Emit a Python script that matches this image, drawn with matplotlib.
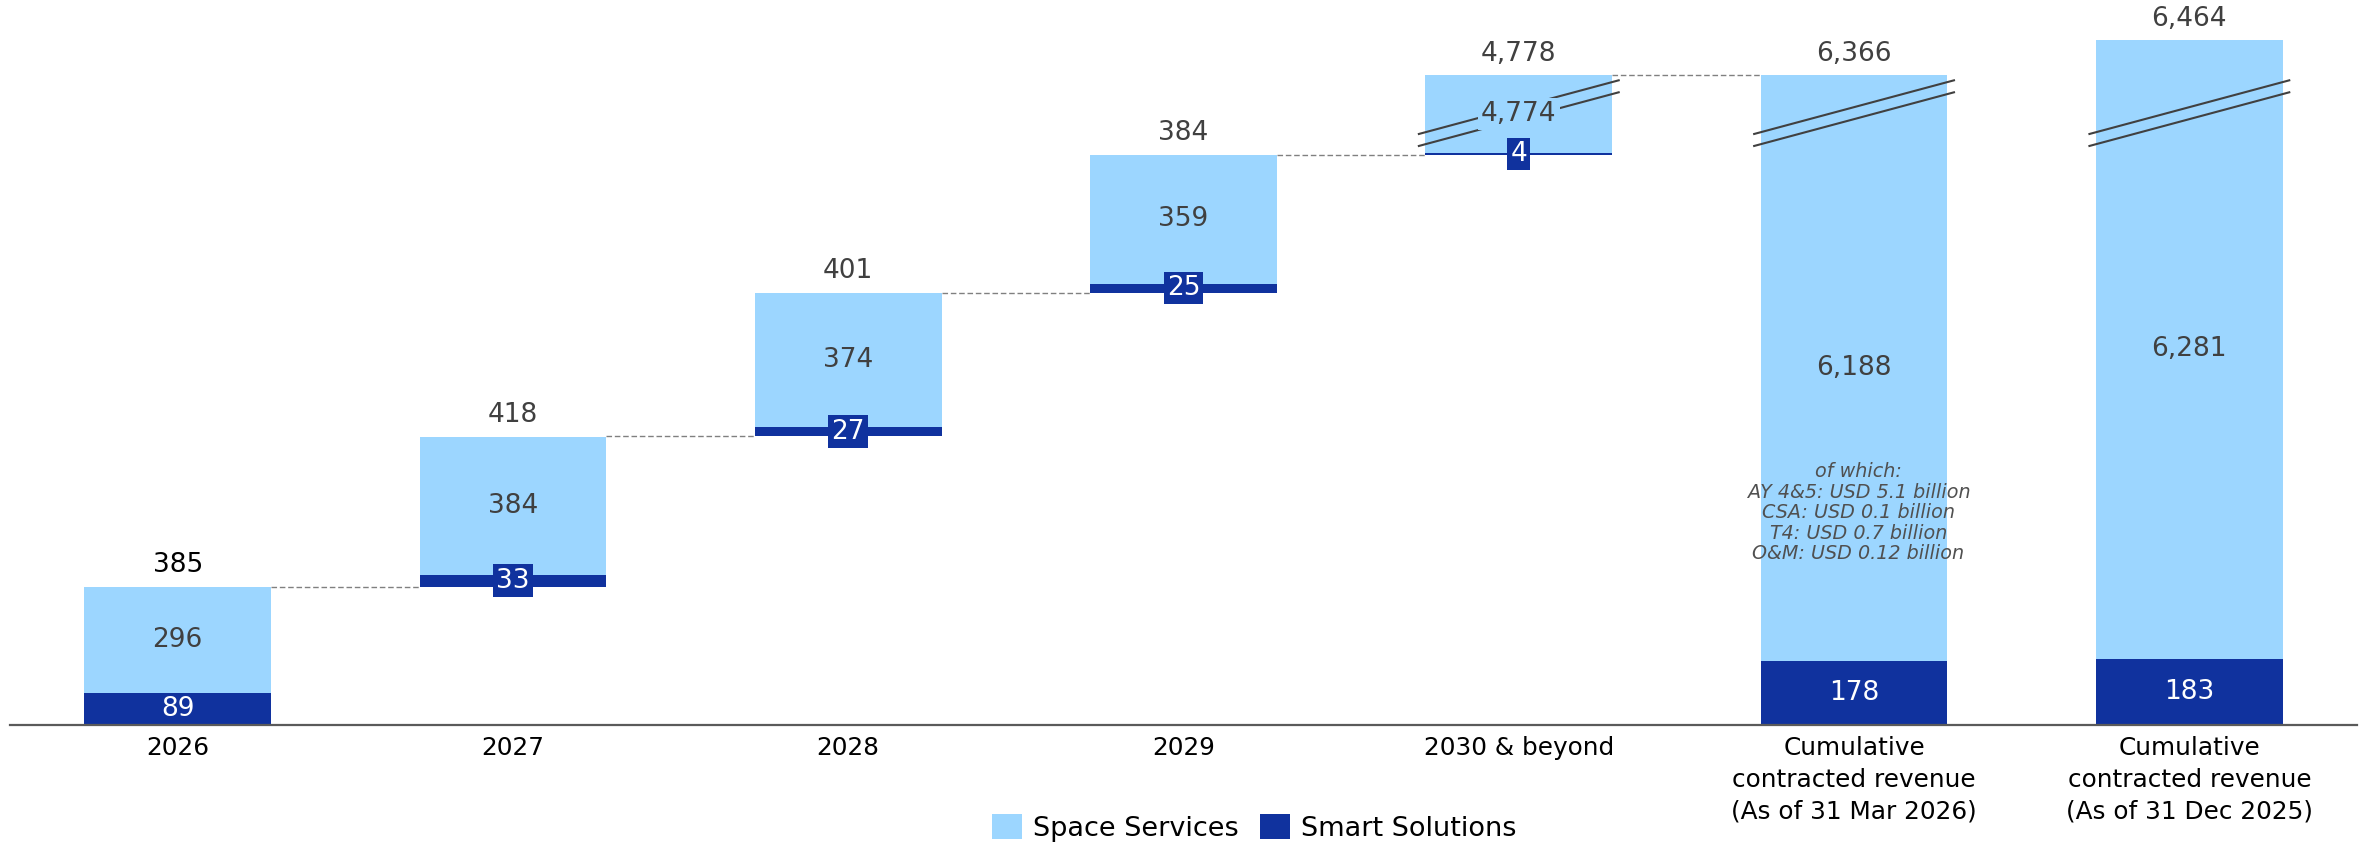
import matplotlib
matplotlib.use("Agg")
import matplotlib.pyplot as plt
from matplotlib.patches import Patch

# ---------------- data ----------------
categories = ["2026", "2027", "2028", "2029", "2030 & beyond",
              "Cumulative\ncontracted revenue\n(As of 31 Mar 2026)",
              "Cumulative\ncontracted revenue\n(As of 31 Dec 2025)"]
space_services = [296, 384, 374, 359, 4774, 6188, 6281]
smart_solutions = [89, 33, 27, 25, 4, 178, 183]
totals = [385, 418, 401, 384, 4778, 6366, 6464]
is_cumulative = [False, False, False, False, False, True, True]
note_lines = ["of which:", "AY 4&5: USD 5.1 billion", "CSA: USD 0.1 billion",
              "T4: USD 0.7 billion", "O&M: USD 0.12 billion"]

# ---------------- style ----------------
LIGHT = "#9cd6ff"
DARK = "#10329e"
GRAY_TXT = "#404040"
BREAK_LO = 3000      # values above this are drawn on the compressed (broken) part
GAP = 4556           # amount of axis removed by the break
BAR_W = 0.557

def disp(v):
    return v - GAP if v > BREAK_LO else v

W, H = 2362, 847
fig = plt.figure(figsize=(W / 100, H / 100), dpi=100)
base_px = 724.7
ax = fig.add_axes([10 / W, (H - base_px) / H, (2357 - 10) / W, base_px / H])
ax.set_xlim(-0.5, 6.5)
ax.set_ylim(0, 2019)

# waterfall bottoms
bottoms = []
running = 0
for t, cum in zip(totals, is_cumulative):
    if cum:
        bottoms.append(0)
    else:
        bottoms.append(running)
        running += t

xs = list(range(len(categories)))
for i, x in enumerate(xs):
    b = bottoms[i]
    s_top = b + smart_solutions[i]
    top = s_top + space_services[i]
    ax.bar(x, disp(s_top) - disp(b), bottom=disp(b), width=BAR_W, color=DARK, zorder=2, linewidth=0)
    ax.bar(x, disp(top) - disp(s_top), bottom=disp(s_top), width=BAR_W, color=LIGHT, zorder=2, linewidth=0)

    # total label
    ax.annotate(f"{totals[i]:,}", (x, disp(top)), xytext=(0, 6.0), textcoords="offset points",
                ha="center", va="bottom", fontsize=19, color="black" if i == 0 else GRAY_TXT, zorder=5)
    # space services label
    ymid = (disp(s_top) + disp(top)) / 2
    ax.text(x, ymid, f"{space_services[i]:,}", ha="center", va="center", fontsize=19,
            color=GRAY_TXT, zorder=5,
            bbox=dict(boxstyle="square,pad=0.12", fc=LIGHT, ec="none"))
    # smart solutions label
    ysm = (disp(b) + disp(s_top)) / 2
    if smart_solutions[i] < 60:
        ax.text(x, ysm, f"{smart_solutions[i]:,}", ha="center", va="center", fontsize=19,
                color="white", zorder=5,
                bbox=dict(boxstyle="square,pad=0.12", fc=DARK, ec="none"))
    else:
        ax.text(x, ysm, f"{smart_solutions[i]:,}", ha="center", va="center", fontsize=19,
                color="white", zorder=5)

    # axis-break marks
    if top > BREAK_LO:
        for dy in (0, -33.4):
            ax.plot([x - 0.301, x + 0.301], [1645 + dy, 1796 + dy], color="#404040",
                    lw=1.5, zorder=3, solid_capstyle="butt")

# connectors
for i in range(len(xs) - 1):
    if is_cumulative[i]:
        continue
    y = disp(bottoms[i] + totals[i])
    ax.plot([xs[i] + BAR_W / 2, xs[i + 1] - BAR_W / 2], [y, y], color="#808080",
            lw=1.0, ls=(0, (4, 2)), zorder=1)

# note
ax.text(5.013, 591, "\n".join(note_lines), ha="center", va="center", fontsize=13.8,
        style="italic", color="#505050", linespacing=1.1, zorder=5)

# axes styling
for sp in ("top", "right", "left"):
    ax.spines[sp].set_visible(False)
ax.spines["bottom"].set_color("#5a5a5a")
ax.spines["bottom"].set_linewidth(1.6)
ax.set_yticks([])
ax.set_xticks(xs, categories)
ax.tick_params(axis="x", length=0, pad=8, labelsize=17.8, labelcolor="black")
for lbl in ax.get_xticklabels():
    lbl.set_linespacing(1.42)

handles = [Patch(facecolor=LIGHT, edgecolor="none", label="Space Services"),
           Patch(facecolor=DARK, edgecolor="none", label="Smart Solutions")]
fig.legend(handles=handles, loc="center", bbox_to_anchor=(1254 / W, (H - 828) / H), ncol=2,
           frameon=False, fontsize=19.5, handlelength=1.1, handleheight=1.0,
           handletextpad=0.4, columnspacing=0.8)

fig.savefig("out.png", dpi=100)
